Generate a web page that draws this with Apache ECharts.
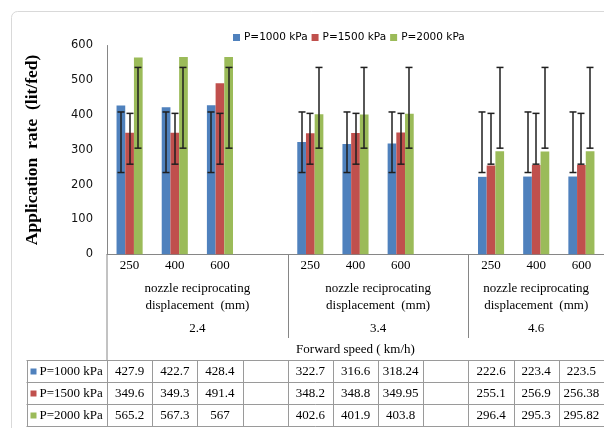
<!DOCTYPE html>
<html><head><meta charset="utf-8">
<script src="https://cdn.jsdelivr.net/npm/echarts@6/dist/echarts.min.js"></script>
<style>html,body{margin:0;padding:0;background:#fff}#c{width:604px;height:428px}</style>
</head><body><div id="c"></div>
<script>
// ---- data ----
const categories = ['250','400','600','','250','400','600','','250','400','600'];
const groupNames = ['2.4','3.4','4.6'];
const groupFirst = [0,4,8];   // first category index of each speed group
const groupLast  = [3,7,10];  // last category index of each speed group
const groupSubtitle = 'nozzle reciprocating\ndisplacement  (mm)';
const outerTitle = 'Forward speed ( km/h)';
const yTitle = 'Application  rate  (lit/fed)';
const seriesNames = ['P=1000 kPa','P=1500 kPa','P=2000 kPa'];
const p1000 = [427.9,422.7,428.4,null,322.7,316.6,318.24,null,222.6,223.4,223.5];
const p1500 = [349.6,349.3,491.4,null,348.2,348.8,349.95,null,255.1,256.9,256.38];
const p2000 = [565.2,567.3,567,null,402.6,401.9,403.8,null,296.4,295.3,295.82];
const errLow1000  = [235,235,235,null,235,235,235,null,235,235,235];
const errHigh1000 = [409,409,409,null,409,409,409,null,409,409,409];
const errLow1500  = [259,259,259,null,259,259,259,null,259,259,259];
const errHigh1500 = [405,405,405,null,405,405,405,null,405,405,405];
const errLow2000  = [305,305,305,null,305,305,305,null,305,305,305];
const errHigh2000 = [537,537,537,null,537,537,537,null,537,537,537];
const yMin = 0, yMax = 600, yInterval = 100;

// ---- style ----
const colors = ['#4F81BD','#C0504D','#9BBB59'];
const BAR_W = 8.7;
const AX = '#868686';
const SERIF = '"Liberation Serif", "Times New Roman", serif';
const SANS = '"DejaVu Sans", Verdana, sans-serif';

const values = [p1000, p1500, p2000];
const lows = [errLow1000, errLow1500, errLow2000];
const highs = [errHigh1000, errHigh1500, errHigh2000];

const chart = echarts.init(document.getElementById('c'), null, {renderer:'canvas'});

function errSeries(si){
  const data = [];
  lows[si].forEach((v,i)=>{ if(v!=null) data.push([i, v, highs[si][i]]); });
  return {
    type:'custom', name:'err'+si, z:5, silent:true,
    encode:{x:0, y:[1,2]},
    data,
    renderItem(params, api){
      const i = api.value(0);
      const lo = api.coord([i, api.value(1)]);
      const hi = api.coord([i, api.value(2)]);
      const x = Math.round(lo[0] + (si-1)*BAR_W);
      const cw = 3.5;
      const st = {stroke:'#1f1f1f', lineWidth:1.5};
      return {type:'group', children:[
        {type:'line', shape:{x1:x,y1:lo[1],x2:x,y2:hi[1]}, style:st},
        {type:'line', shape:{x1:x-cw,y1:hi[1],x2:x+cw,y2:hi[1]}, style:st},
        {type:'line', shape:{x1:x-cw,y1:lo[1],x2:x+cw,y2:lo[1]}, style:st}
      ]};
    }
  };
}

const option = {
  animation:false,
  backgroundColor:'#fff',
  color: colors,
  legend:{
    data: seriesNames.map(n=>({name:n, icon:'rect'})),
    left:228, top:27, itemWidth:7, itemHeight:7, itemGap:4,
    textStyle:{fontFamily:SANS, fontSize:10.5, color:'#000', padding:[0,0,0,-1]}
  },
  grid:{left:107, top:45.5, width:500, height:208.8, containLabel:false},
  xAxis:{
    type:'category', data:categories,
    axisLine:{lineStyle:{color:AX, width:1}},
    axisTick:{interval:0, length:22, lineStyle:{color:AX}},
    axisLabel:{interval:0, fontFamily:SERIF, fontSize:13, color:'#000', margin:5}
  },
  yAxis:{
    type:'value', min:yMin, max:yMax, interval:yInterval,
    axisLine:{show:true, lineStyle:{color:AX}},
    axisTick:{show:false}, splitLine:{show:false},
    axisLabel:{fontFamily:SANS, fontSize:11.5, color:'#111', margin:14},
    name:yTitle, nameLocation:'middle', nameGap:66,
    nameTextStyle:{fontFamily:SERIF, fontWeight:'bold', fontSize:17.5, color:'#000'}
  },
  series:[
    ...values.map((v,si)=>({type:'bar', name:seriesNames[si], data:v, barWidth:BAR_W, barGap:'0%',
      itemStyle:{color:colors[si]}})),
    errSeries(0), errSeries(1), errSeries(2)
  ]
};
chart.setOption(option);

// ---- category axis extras & data table ----
function px(i){ return chart.convertToPixel({xAxisIndex:0}, i); }
const slot = px(1) - px(0);
const y0 = chart.convertToPixel({yAxisIndex:0}, 0);
const xLeft = px(0) - slot/2;
const g = [];
const lineSt = {stroke:AX, lineWidth:1};
// outer frame
g.push({type:'rect', shape:{x:11.5, y:11.5, width:640, height:440, r:6}, style:{fill:null, stroke:'#d9d9d9', lineWidth:1}, z:-1});
// axis extension down to table
g.push({type:'line', shape:{x1:xLeft, y1:y0, x2:xLeft, y2:360}, style:lineSt});
// group dividers and labels
groupFirst.forEach((f,gi)=>{
  if (gi>0){
    const xb = Math.round(px(f) - slot/2)+0.5;
    g.push({type:'line', shape:{x1:xb, y1:y0, x2:xb, y2:338}, style:lineSt});
  }
  const cx = (px(f) + px(groupLast[gi]))/2;
  g.push({type:'text', x:cx, y:297.5, style:{text:groupSubtitle, fontFamily:SERIF, fontSize:13, lineHeight:17, fill:'#000', align:'center', verticalAlign:'middle'}});
  g.push({type:'text', x:cx, y:329, style:{text:groupNames[gi], fontFamily:SERIF, fontSize:13, fill:'#000', align:'center', verticalAlign:'middle'}});
});
const pcx = (px(0) + px(categories.length-1))/2;
g.push({type:'text', x:pcx, y:350, style:{text:outerTitle, fontFamily:SERIF, fontSize:13, fill:'#000', align:'center', verticalAlign:'middle'}});
// table
const tTop = 360, rowH = 22, tLeft = 26.5;
const tRight = xLeft + slot*(categories.length+1);
const tabSt = {stroke:'#9a9a9a', lineWidth:1};
for (let r=0;r<=3;r++){
  const y = Math.round(tTop + r*rowH)+0.5;
  g.push({type:'line', shape:{x1:tLeft, y1:y, x2:tRight, y2:y}, style:tabSt});
}
const vx = [tLeft, xLeft];
for (let i=1;i<=categories.length;i++) vx.push(xLeft + i*slot);
vx.forEach(x=>{
  const xx = Math.round(x)+0.5;
  g.push({type:'line', shape:{x1:xx, y1:tTop, x2:xx, y2:tTop+3*rowH}, style:tabSt});
});
values.forEach((arr,si)=>{
  const cy = tTop + si*rowH + rowH/2 + 1;
  g.push({type:'rect', shape:{x:30.5, y:cy-3.5, width:6, height:6}, style:{fill:colors[si]}});
  g.push({type:'text', x:39.5, y:cy, style:{text:seriesNames[si], fontFamily:SERIF, fontSize:13, fill:'#000', align:'left', verticalAlign:'middle'}});
  arr.forEach((v,i)=>{
    if (v==null) return;
    g.push({type:'text', x:px(i), y:cy, style:{text:String(v), fontFamily:SERIF, fontSize:13, fill:'#000', align:'center', verticalAlign:'middle'}});
  });
});
chart.setOption({graphic:g});
</script>
</body></html>
